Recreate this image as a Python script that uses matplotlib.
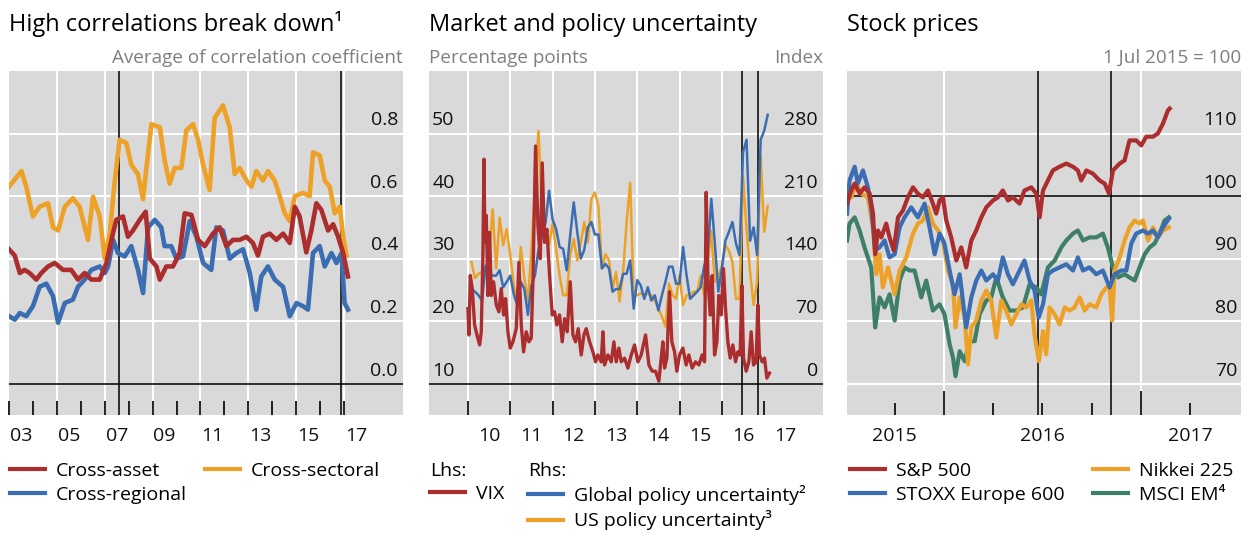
import matplotlib
matplotlib.use("Agg")
import matplotlib.pyplot as plt
from matplotlib.lines import Line2D

plt.rcParams['font.family'] = ['Open Sans', 'DejaVu Sans']

RED = '#AB2D2D'
BLUE = '#3B6DB3'
ORANGE = '#EDA126'
GREEN = '#3E7F68'
BG = '#D9D9D9'
GREY_TXT = '#7F7F7F'

# ---------------- Panel 1: High correlations break down ----------------
asset_t = [2003.00, 2003.24, 2003.45, 2003.65, 2003.86, 2004.14, 2004.35, 2004.63, 2004.91, 2005.26,
           2005.60, 2005.88, 2006.16, 2006.44, 2006.79, 2007.07, 2007.28, 2007.48, 2007.76, 2007.97,
           2008.18, 2008.46, 2008.71, 2008.88, 2009.16, 2009.30, 2009.57, 2009.85, 2010.13, 2010.34,
           2010.62, 2010.90, 2011.18, 2011.52, 2011.80, 2012.08, 2012.36, 2012.64, 2012.92, 2013.19,
           2013.40, 2013.61, 2013.89, 2014.17, 2014.45, 2014.73, 2014.94, 2015.14, 2015.42, 2015.63,
           2015.84, 2016.05, 2016.33, 2016.54, 2016.75, 2016.96, 2017.16]
cross_asset = [0.43, 0.41, 0.354, 0.364, 0.354, 0.333, 0.354, 0.375, 0.386, 0.364,
               0.364, 0.333, 0.354, 0.333, 0.333, 0.386, 0.46, 0.524, 0.535, 0.47,
               0.49, 0.524, 0.55, 0.40, 0.375, 0.333, 0.375, 0.375, 0.418, 0.545,
               0.54, 0.46, 0.44, 0.48, 0.50, 0.44, 0.46, 0.46, 0.47, 0.45,
               0.41, 0.47, 0.48, 0.46, 0.48, 0.45, 0.566, 0.535, 0.42, 0.49,
               0.577, 0.556, 0.49, 0.51, 0.47, 0.418, 0.343]

sectoral_t = [2003.00, 2003.52, 2003.72, 2004.00, 2004.28, 2004.63, 2004.84, 2005.05, 2005.33, 2005.67,
              2005.95, 2006.30, 2006.51, 2006.79, 2007.00, 2007.21, 2007.42, 2007.62, 2007.90, 2008.11,
              2008.39, 2008.60, 2008.74, 2008.95, 2009.30, 2009.50, 2009.71, 2009.92, 2010.20, 2010.41,
              2010.69, 2010.90, 2011.11, 2011.38, 2011.59, 2011.94, 2012.22, 2012.43, 2012.64, 2012.92,
              2013.13, 2013.33, 2013.61, 2013.82, 2014.10, 2014.31, 2014.52, 2014.73, 2014.94, 2015.28,
              2015.56, 2015.70, 2015.98, 2016.19, 2016.40, 2016.61, 2016.82, 2016.96, 2017.10]
cross_sectoral = [0.63, 0.68, 0.63, 0.535, 0.566, 0.577, 0.50, 0.49, 0.566, 0.593,
                  0.566, 0.46, 0.598, 0.535, 0.40, 0.48, 0.65, 0.78, 0.77, 0.70,
                  0.67, 0.59, 0.69, 0.83, 0.82, 0.715, 0.64, 0.69, 0.69, 0.81,
                  0.83, 0.78, 0.70, 0.62, 0.85, 0.89, 0.82, 0.67, 0.69, 0.65,
                  0.63, 0.68, 0.65, 0.68, 0.65, 0.60, 0.545, 0.52, 0.60, 0.61,
                  0.60, 0.74, 0.73, 0.65, 0.63, 0.545, 0.566, 0.47, 0.41]

regional_t = [2003.00, 2003.24, 2003.45, 2003.72, 2004.00, 2004.28, 2004.56, 2004.84, 2005.05, 2005.33,
              2005.67, 2005.88, 2006.16, 2006.44, 2006.79, 2007.00, 2007.14, 2007.35, 2007.55, 2007.83,
              2008.11, 2008.39, 2008.60, 2008.81, 2009.09, 2009.36, 2009.50, 2009.78, 2009.99, 2010.27,
              2010.55, 2010.83, 2011.11, 2011.45, 2011.66, 2011.94, 2012.22, 2012.50, 2012.78, 2013.06,
              2013.33, 2013.54, 2013.82, 2014.10, 2014.45, 2014.73, 2015.01, 2015.28, 2015.49, 2015.70,
              2015.98, 2016.19, 2016.47, 2016.68, 2016.89, 2017.02, 2017.16]
cross_regional = [0.216, 0.205, 0.226, 0.216, 0.248, 0.31, 0.32, 0.28, 0.195, 0.258,
                  0.269, 0.31, 0.333, 0.364, 0.375, 0.354, 0.375, 0.46, 0.418, 0.407,
                  0.44, 0.364, 0.29, 0.50, 0.524, 0.50, 0.44, 0.44, 0.40, 0.407,
                  0.52, 0.47, 0.386, 0.364, 0.50, 0.49, 0.40, 0.418, 0.43, 0.354,
                  0.237, 0.343, 0.375, 0.333, 0.31, 0.216, 0.258, 0.248, 0.237, 0.418,
                  0.44, 0.375, 0.418, 0.386, 0.418, 0.258, 0.237]

p1_events = [2007.58, 2016.85]
p1_yticks = [0.0, 0.2, 0.4, 0.6, 0.8]
p1_ytick_labels = ['0.0', '0.2', '0.4', '0.6', '0.8']
p1_year_ticks = list(range(2003, 2018))
p1_year_label_pos = [2003.5, 2005.5, 2007.5, 2009.5, 2011.5, 2013.5, 2015.5, 2017.5]
p1_year_labels = ['03', '05', '07', '09', '11', '13', '15', '17']
p1_vgrid = [2005, 2007, 2009, 2011, 2013, 2015, 2017]

# ---------------- Panel 2: Market and policy uncertainty ----------------
vix_t = [2010.000, 2010.024, 2010.055, 2010.102, 2010.157, 2010.213, 2010.276, 2010.315, 2010.354, 2010.378,
         2010.402, 2010.433, 2010.472, 2010.512, 2010.551, 2010.606, 2010.669, 2010.732, 2010.787, 2010.843,
         2010.890, 2010.945, 2011.000, 2011.063, 2011.142, 2011.205, 2011.260, 2011.315, 2011.378, 2011.441,
         2011.496, 2011.535, 2011.598, 2011.654, 2011.709, 2011.756, 2011.811, 2011.866, 2011.929, 2011.992,
         2012.047, 2012.102, 2012.165, 2012.228, 2012.283, 2012.346, 2012.417, 2012.480, 2012.543, 2012.606,
         2012.677, 2012.740, 2012.795, 2012.874, 2012.953, 2013.016, 2013.071, 2013.150, 2013.189, 2013.228,
         2013.307, 2013.386, 2013.449, 2013.504, 2013.567, 2013.622, 2013.701, 2013.780, 2013.858, 2013.937,
         2014.016, 2014.094, 2014.197, 2014.276, 2014.354, 2014.433, 2014.512, 2014.567, 2014.606, 2014.646,
         2014.701, 2014.764, 2014.819, 2014.882, 2014.937, 2015.000, 2015.079, 2015.157, 2015.220, 2015.299,
         2015.378, 2015.457, 2015.535, 2015.591, 2015.630, 2015.669, 2015.724, 2015.772, 2015.827, 2015.882,
         2015.929, 2015.984, 2016.039, 2016.087, 2016.142, 2016.197, 2016.260, 2016.323, 2016.378, 2016.433,
         2016.472, 2016.512, 2016.575, 2016.638, 2016.693, 2016.748, 2016.811, 2016.850, 2016.890, 2016.953,
         2017.008, 2017.063, 2017.126]
vix = [22.0, 17.8, 27.3, 25.2, 19.4, 17.8, 16.2, 18.3, 30.5, 45.9,
       32.6, 36.9, 24.1, 34.2, 24.1, 26.3, 22.6, 21.5, 25.2, 21.0,
       23.6, 18.3, 15.7, 16.7, 18.8, 29.4, 19.4, 15.1, 18.3, 16.7,
       17.3, 26.3, 48.0, 35.3, 30.0, 45.3, 32.6, 34.7, 27.3, 21.0,
       21.5, 19.4, 21.0, 16.7, 20.4, 18.3, 26.3, 17.8, 16.7, 18.8,
       14.6, 17.8, 18.8, 16.7, 15.1, 13.5, 14.6, 13.5, 18.3, 13.0,
       14.6, 13.5, 16.7, 13.5, 15.7, 13.5, 14.1, 12.5, 14.6, 16.2,
       13.5, 14.6, 17.8, 13.0, 12.0, 12.0, 10.4, 14.1, 16.7, 12.5,
       14.1, 24.7, 16.7, 15.1, 12.0, 14.6, 15.7, 13.0, 14.6, 12.5,
       13.5, 13.0, 14.6, 13.5, 40.6, 27.3, 21.0, 27.3, 14.6, 16.7,
       24.1, 21.0, 28.4, 22.0, 16.7, 14.1, 16.2, 13.5, 15.1, 14.6,
       25.7, 14.1, 12.0, 13.5, 18.3, 13.0, 13.5, 22.6, 14.6, 13.5,
       14.1, 10.9, 11.7]

# monthly series, Jan 2010 - Jan 2017
policy_start_year = 2010
global_policy = [106, 103, 99, 93, 132, 125, 121, 121, 127, 108,
                 114, 121, 100, 88, 114, 106, 77, 110, 121, 150,
                 165, 180, 216, 184, 173, 153, 151, 127, 166, 203,
                 170, 140, 150, 175, 181, 167, 167, 129, 134, 129,
                 103, 106, 106, 123, 123, 138, 84, 116, 110, 95,
                 108, 93, 99, 82, 99, 114, 131, 131, 112, 112,
                 153, 121, 95, 99, 103, 108, 132, 144, 207, 158,
                 103, 129, 160, 170, 181, 157, 144, 259, 273, 160,
                 175, 144, 273, 283, 301]
us_policy = [136, 118, 123, 125, 125, 144, 195, 129, 186, 155,
             173, 144, 110, 92, 153, 118, 92, 150, 220, 283,
             188, 162, 155, 179, 151, 121, 99, 99, 144, 162,
             138, 158, 181, 158, 207, 214, 199, 129, 145, 138,
             106, 125, 92, 125, 181, 225, 99, 99, 101, 99,
             101, 99, 93, 84, 75, 64, 112, 99, 95, 121,
             88, 99, 99, 103, 103, 121, 99, 136, 171, 114,
             121, 131, 155, 149, 136, 95, 95, 233, 173, 125,
             88, 114, 255, 170, 199]
policy_t = [policy_start_year + (i + 1) / 12 for i in range(len(global_policy))]

p2_events = [2016.48, 2016.86]
p2_lticks = [10, 20, 30, 40, 50]
p2_rticks = [0, 70, 140, 210, 280]
p2_year_ticks = list(range(2010, 2018))
p2_year_label_pos = [y + 0.5 for y in range(2010, 2018)]
p2_year_labels = ['10', '11', '12', '13', '14', '15', '16', '17']

# ---------------- Panel 3: Stock prices ----------------
sp_t = [2015.508, 2015.530, 2015.547, 2015.572, 2015.597, 2015.623, 2015.640, 2015.651, 2015.665, 2015.682,
        2015.707, 2015.724, 2015.745, 2015.767, 2015.792, 2015.817, 2015.843, 2015.868, 2015.893, 2015.919,
        2015.944, 2015.961, 2015.978, 2015.995, 2016.012, 2016.037, 2016.063, 2016.088, 2016.113, 2016.139,
        2016.164, 2016.190, 2016.215, 2016.249, 2016.274, 2016.299, 2016.325, 2016.350, 2016.384, 2016.409,
        2016.443, 2016.469, 2016.486, 2016.503, 2016.528, 2016.553, 2016.587, 2016.621, 2016.655, 2016.680,
        2016.697, 2016.723, 2016.756, 2016.790, 2016.816, 2016.838, 2016.858, 2016.892, 2016.917, 2016.942,
        2016.976, 2017.002, 2017.027, 2017.061, 2017.086, 2017.112, 2017.137, 2017.146]
sp500 = [98.8, 100.9, 102.0, 100.4, 101.4, 100.4, 97.2, 90.7, 94.5, 93.4,
         95.6, 93.4, 91.3, 96.6, 97.7, 99.8, 101.4, 100.4, 99.8, 100.9,
         98.8, 97.2, 99.3, 99.8, 96.1, 93.4, 89.7, 91.8, 88.6, 92.9,
         94.5, 96.6, 98.2, 99.3, 99.8, 100.9, 99.3, 99.8, 98.8, 100.9,
         101.4, 100.4, 96.6, 100.9, 102.5, 104.1, 104.7, 105.2, 104.7, 104.1,
         102.5, 104.1, 103.6, 102.5, 102.0, 100.4, 104.1, 105.2, 105.7, 108.9,
         108.9, 108.1, 109.5, 109.5, 110.0, 111.6, 113.7, 114.0]

stoxx_t = [2015.508, 2015.521, 2015.547, 2015.563, 2015.589, 2015.614, 2015.631, 2015.651, 2015.673, 2015.699,
           2015.724, 2015.750, 2015.775, 2015.800, 2015.834, 2015.868, 2015.902, 2015.927, 2015.953, 2015.978,
           2016.003, 2016.029, 2016.054, 2016.080, 2016.113, 2016.139, 2016.164, 2016.190, 2016.215, 2016.249,
           2016.274, 2016.299, 2016.325, 2016.350, 2016.384, 2016.409, 2016.435, 2016.460, 2016.481, 2016.503,
           2016.528, 2016.553, 2016.587, 2016.621, 2016.655, 2016.680, 2016.706, 2016.739, 2016.773, 2016.807,
           2016.841, 2016.866, 2016.900, 2016.926, 2016.951, 2016.976, 2017.010, 2017.036, 2017.061, 2017.086,
           2017.112, 2017.142]
stoxx600 = [97.2, 102.5, 104.7, 102.0, 104.1, 101.4, 98.2, 91.3, 91.8, 92.9,
            90.2, 90.7, 95.0, 96.6, 98.2, 96.6, 98.8, 95.0, 90.7, 94.0,
            92.4, 88.1, 84.3, 87.5, 79.0, 83.8, 86.5, 88.1, 86.5, 87.5,
            86.5, 90.2, 87.5, 85.9, 88.1, 89.7, 86.5, 84.9, 80.6, 82.7,
            87.5, 88.1, 88.6, 89.1, 88.1, 90.2, 88.1, 88.6, 87.5, 88.1,
            85.4, 87.5, 88.1, 88.1, 92.4, 94.0, 94.5, 94.0, 94.5, 93.4,
            95.0, 96.4]

nikkei_t = [2015.508, 2015.530, 2015.555, 2015.580, 2015.614, 2015.640, 2015.657, 2015.673, 2015.690, 2015.716,
            2015.750, 2015.775, 2015.809, 2015.843, 2015.868, 2015.893, 2015.919, 2015.944, 2015.970, 2015.995,
            2016.020, 2016.046, 2016.059, 2016.080, 2016.105, 2016.122, 2016.139, 2016.164, 2016.190, 2016.215,
            2016.240, 2016.266, 2016.291, 2016.316, 2016.342, 2016.367, 2016.393, 2016.418, 2016.443, 2016.460,
            2016.482, 2016.503, 2016.519, 2016.536, 2016.562, 2016.587, 2016.613, 2016.638, 2016.663, 2016.689,
            2016.714, 2016.739, 2016.773, 2016.799, 2016.824, 2016.841, 2016.854, 2016.866, 2016.892, 2016.917,
            2016.942, 2016.968, 2016.993, 2017.010, 2017.036, 2017.061, 2017.086, 2017.112, 2017.142]
nikkei225 = [100.9, 99.8, 102.0, 100.4, 99.8, 95.0, 87.5, 90.7, 85.4, 88.6,
             84.3, 88.1, 90.2, 94.0, 95.6, 96.1, 98.2, 95.6, 94.5, 92.9,
             88.1, 85.9, 79.0, 83.8, 80.6, 73.1, 79.0, 80.1, 83.3, 84.9,
             83.3, 77.4, 83.3, 81.7, 79.5, 81.1, 82.7, 82.2, 83.3, 77.9,
             73.6, 78.4, 74.7, 82.2, 81.1, 79.5, 82.2, 81.7, 82.2, 83.8,
             81.7, 82.7, 82.2, 84.3, 85.4, 85.4, 80.1, 88.1, 90.2, 92.9,
             95.0, 96.1, 95.6, 96.1, 92.9, 95.0, 93.4, 94.5, 95.0]

em_t = [2015.508, 2015.521, 2015.547, 2015.572, 2015.597, 2015.631, 2015.651, 2015.673, 2015.699, 2015.724,
        2015.750, 2015.775, 2015.800, 2015.826, 2015.851, 2015.885, 2015.910, 2015.944, 2015.978, 2016.003,
        2016.029, 2016.046, 2016.059, 2016.080, 2016.105, 2016.130, 2016.156, 2016.181, 2016.215, 2016.240,
        2016.266, 2016.299, 2016.333, 2016.367, 2016.401, 2016.435, 2016.469, 2016.494, 2016.528, 2016.562,
        2016.596, 2016.621, 2016.655, 2016.680, 2016.706, 2016.739, 2016.773, 2016.807, 2016.832, 2016.858,
        2016.883, 2016.917, 2016.942, 2016.968, 2016.993, 2017.019, 2017.044, 2017.069, 2017.095, 2017.120,
        2017.142]
msci_em = [92.9, 95.6, 96.6, 94.5, 91.8, 88.6, 79.0, 83.8, 82.2, 84.3,
           80.1, 86.5, 88.6, 88.1, 88.1, 83.8, 86.5, 81.7, 82.7, 81.1,
           76.3, 74.2, 71.2, 75.2, 73.6, 76.8, 76.8, 81.1, 83.3, 83.8,
           87.0, 83.8, 81.7, 81.7, 82.2, 85.9, 85.4, 84.3, 88.6, 89.7,
           91.8, 92.9, 94.0, 94.5, 92.9, 93.4, 93.4, 94.0, 91.8, 88.6,
           87.0, 87.5, 87.0, 86.5, 88.6, 90.7, 91.8, 92.4, 94.0, 96.1,
           96.6]

p3_events = [2016.48, 2016.85]
p3_yticks = [70, 80, 90, 100, 110]
p3_major_xticks = [2016, 2017]
p3_minor_xticks = [2015.75, 2016.25, 2016.5, 2016.75, 2017.25]
p3_year_label_pos = [2015.75, 2016.5, 2017.25]
p3_year_labels = ['2015', '2016', '2017']

# ---------------- Figure ----------------
W, H = 1250, 536
fig = plt.figure(figsize=(W / 100, H / 100), dpi=100)

AX_TOP, AX_BOT = 71, 415
def rect(x0, x1):
    return [x0 / W, 1 - AX_BOT / H, (x1 - x0) / W, (AX_BOT - AX_TOP) / H]

TICK_FS = 14
LEG_FS = 14
TITLE_FS = 17
SUB_FS = 13.6

def hide_y(ax):
    ax.tick_params(axis='y', which='both', left=False, right=False,
                   labelleft=False, labelright=False)

def base_style(ax, bg=True):
    if bg:
        ax.set_facecolor(BG)
    for s in ax.spines.values():
        s.set_visible(False)
    hide_y(ax)
    ax.tick_params(axis='x', which='both', direction='in', color='black', width=1.2,
                   labelbottom=False, bottom=True, top=False)

def year_labels(ax, pos, labels):
    for p, lab in zip(pos, labels):
        ax.annotate(lab, xy=(p, 0), xycoords=('data', 'axes fraction'),
                    xytext=(0, -15), textcoords='offset points',
                    ha='center', va='center', fontsize=TICK_FS, color='#111111',
                    annotation_clip=False)

def y_labels(ax, values, labels, xfrac, ha):
    for v, lab in zip(values, labels):
        ax.annotate(lab, xy=(xfrac, v), xycoords=('axes fraction', 'data'),
                    xytext=(0, 9.5), textcoords='offset points',
                    ha=ha, va='center', fontsize=TICK_FS, color='#111111')

# ---- Panel 1
ax1 = fig.add_axes(rect(9, 403))
base_style(ax1)
ax1.set_xlim(2003, 2019.46)
ax1.set_ylim(-0.1, 1.0)
ax1.set_xticks(p1_year_ticks)
ax1.tick_params(axis='x', length=10)
for v in p1_yticks[1:]:
    ax1.axhline(v, color='white', lw=1.5, zorder=0.5)
for v in p1_vgrid:
    ax1.axvline(v, color='white', lw=1.5, zorder=0.5)
ax1.axhline(0, color='black', lw=1.1, zorder=1)
for e in p1_events:
    ax1.axvline(e, color='black', lw=1.1, zorder=1)
ax1.plot(sectoral_t, cross_sectoral, color=ORANGE, lw=3.3, zorder=2, solid_joinstyle='round')
ax1.plot(regional_t, cross_regional, color=BLUE, lw=3.3, zorder=3, solid_joinstyle='round')
ax1.plot(asset_t, cross_asset, color=RED, lw=3.3, zorder=4, solid_joinstyle='round')
y_labels(ax1, p1_yticks, p1_ytick_labels, 0.987, 'right')
year_labels(ax1, p1_year_label_pos, p1_year_labels)

# ---- Panel 2
ax2r = fig.add_axes(rect(429, 823))
base_style(ax2r)
ax2r.set_xlim(2009.08, 2018.39)
ax2r.set_ylim(-35, 350)
ax2r.set_xticks(p2_year_ticks)
ax2r.tick_params(axis='x', length=10)
for v in p2_rticks[1:]:
    ax2r.axhline(v, color='white', lw=1.5, zorder=0.5)
for v in p2_year_ticks[:-1]:
    ax2r.axvline(v, color='white', lw=1.5, zorder=0.5)
ax2r.axhline(0, color='black', lw=1.1, zorder=1)
for e in p2_events:
    ax2r.axvline(e, color='black', lw=1.1, zorder=1)
ax2r.plot(policy_t, us_policy, color=ORANGE, lw=1.8, zorder=2)
ax2r.plot(policy_t, global_policy, color=BLUE, lw=1.8, zorder=3)
ax2l = ax2r.twinx()
ax2l.set_ylim(5, 60)
ax2l.patch.set_visible(False)
for s in ax2l.spines.values():
    s.set_visible(False)
hide_y(ax2l)
hide_y(ax2r)
ax2l.plot(vix_t, vix, color=RED, lw=2.4, zorder=4)
y_labels(ax2l, p2_lticks, [str(v) for v in p2_lticks], 0.008, 'left')
y_labels(ax2r, p2_rticks, [str(v) for v in p2_rticks], 0.987, 'right')
year_labels(ax2r, p2_year_label_pos, p2_year_labels)

# ---- Panel 3
ax3 = fig.add_axes(rect(847, 1241))
base_style(ax3)
ax3.set_xlim(2015.508, 2017.508)
ax3.set_ylim(65, 120)
ax3.set_xticks(p3_major_xticks)
ax3.set_xticks(p3_minor_xticks, minor=True)
ax3.tick_params(axis='x', which='major', length=17)
ax3.tick_params(axis='x', which='minor', length=9)
for v in p3_yticks:
    if v != 100:
        ax3.axhline(v, color='white', lw=1.5, zorder=0.5)
for v in p3_major_xticks:
    ax3.axvline(v, color='white', lw=1.5, zorder=0.5)
ax3.axhline(100, color='black', lw=1.1, zorder=1)
for e in p3_events:
    ax3.axvline(e, color='black', lw=1.1, zorder=1)
ax3.plot(em_t, msci_em, color=GREEN, lw=3.0, zorder=2)
ax3.plot(nikkei_t, nikkei225, color=ORANGE, lw=3.0, zorder=3)
ax3.plot(stoxx_t, stoxx600, color=BLUE, lw=3.0, zorder=4)
ax3.plot(sp_t, sp500, color=RED, lw=3.0, zorder=5)
y_labels(ax3, p3_yticks, [str(v) for v in p3_yticks], 0.99, 'right')
year_labels(ax3, p3_year_label_pos, p3_year_labels)

# ---- Titles and unit labels
def fx(px):
    return px / W
def fy(py):
    return 1 - py / H

fig.text(fx(9), fy(31), 'High correlations break down¹', fontsize=TITLE_FS, va='baseline', ha='left')
fig.text(fx(429), fy(31), 'Market and policy uncertainty', fontsize=TITLE_FS, va='baseline', ha='left')
fig.text(fx(847), fy(31), 'Stock prices', fontsize=TITLE_FS, va='baseline', ha='left')

fig.text(fx(403), fy(63), 'Average of correlation coefficient', fontsize=SUB_FS, color=GREY_TXT,
         va='baseline', ha='right')
fig.text(fx(429), fy(63), 'Percentage points', fontsize=SUB_FS, color=GREY_TXT, va='baseline', ha='left')
fig.text(fx(823), fy(63), 'Index', fontsize=SUB_FS, color=GREY_TXT, va='baseline', ha='right')
fig.text(fx(1241), fy(63), '1 Jul 2015 = 100', fontsize=SUB_FS, color=GREY_TXT, va='baseline', ha='right')

# ---- Legends
def handle(c):
    return Line2D([], [], color=c, lw=3.0)

def legend(x_px, y_px, items, title=None):
    leg = fig.legend([handle(c) for c, _ in items], [l for _, l in items],
                     loc='upper left', bbox_to_anchor=(fx(x_px), fy(y_px)),
                     frameon=False, fontsize=LEG_FS, handlelength=1.8, handletextpad=0.55,
                     borderpad=0, borderaxespad=0, labelspacing=0.29, title=title,
                     title_fontsize=LEG_FS, alignment='left')
    leg._legend_box.sep = 3.5
    return leg

legend(10, 462, [(RED, 'Cross-asset'), (BLUE, 'Cross-regional')])
legend(205, 462, [(ORANGE, 'Cross-sectoral')])
legend(430, 462, [(RED, 'VIX')], title='Lhs:')
legend(528, 462, [(BLUE, 'Global policy uncertainty²'), (ORANGE, 'US policy uncertainty³')], title='Rhs:')
legend(850, 462, [(RED, 'S&P 500'), (BLUE, 'STOXX Europe 600')])
legend(1093, 462, [(ORANGE, 'Nikkei 225'), (GREEN, 'MSCI EM⁴')])

fig.savefig('out.png', dpi=100)
